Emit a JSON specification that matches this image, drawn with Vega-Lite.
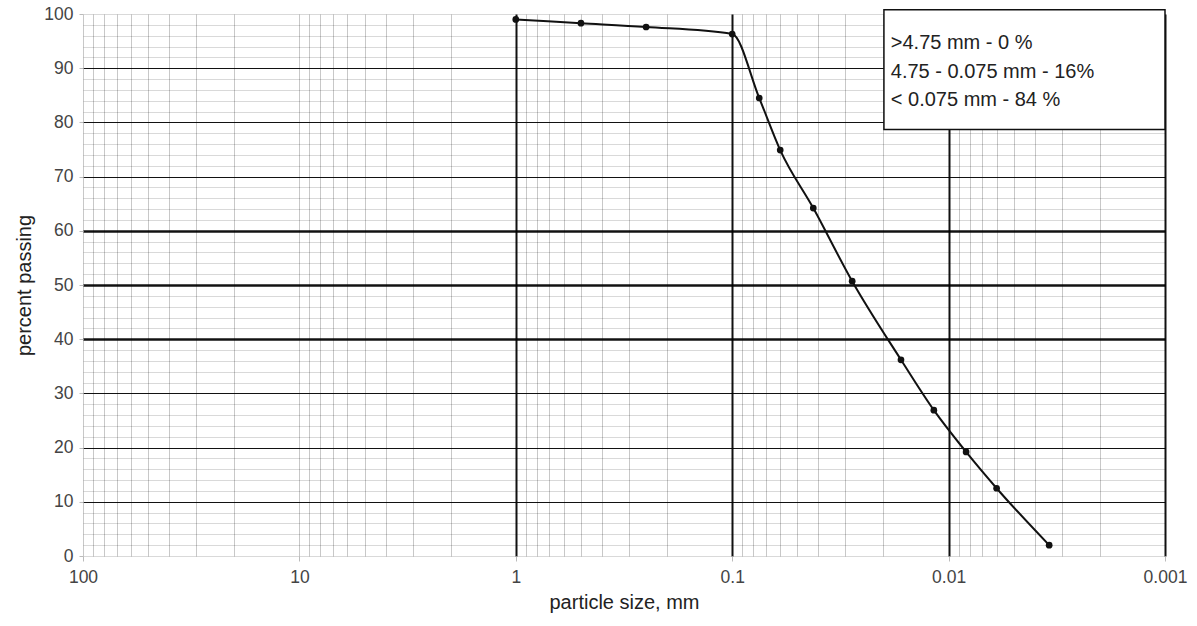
{
  "$schema": "https://vega.github.io/schema/vega-lite/v6.json",
  "width": 1082,
  "height": 542,
  "autosize": {"type": "none"},
  "padding": {"left": 83, "top": 14, "right": 32, "bottom": 70},
  "background": "white",
  "config": {
    "view": {"stroke": null},
    "font": "Liberation Sans",
    "axis": {"labelFont": "Liberation Sans", "titleFont": "Liberation Sans", "domain": false}
  },
  "datasets": {
    "pts": [
      {"size": 1.0, "passing": 99.0},
      {"size": 0.5, "passing": 98.3},
      {"size": 0.25, "passing": 97.6},
      {"size": 0.1, "passing": 96.3},
      {"size": 0.075, "passing": 84.5},
      {"size": 0.06, "passing": 74.9},
      {"size": 0.0422, "passing": 64.2},
      {"size": 0.0279, "passing": 50.7},
      {"size": 0.0166, "passing": 36.2},
      {"size": 0.0117, "passing": 26.9},
      {"size": 0.0083, "passing": 19.2},
      {"size": 0.006, "passing": 12.5},
      {"size": 0.00343, "passing": 2.0}
    ],
    "box": [{"x1": 0.0199, "x2": 0.001, "y1": 78.7, "y2": 100.8}],
    "notes": [
      {"x": 0.0185, "y": 94.6, "t": ">4.75 mm - 0 %"},
      {"x": 0.0185, "y": 89.3, "t": "4.75 - 0.075 mm - 16%"},
      {"x": 0.0185, "y": 84.1, "t": "< 0.075 mm - 84 %"}
    ]
  },
  "layer": [
    {
      "data": {"name": "pts"},
      "mark": {"type": "line", "color": "#111", "strokeWidth": 2, "interpolate": "monotone", "clip": false},
      "encoding": {
        "x": {
          "field": "size", "type": "quantitative",
          "scale": {"type": "log", "domain": [0.001, 100], "reverse": true, "nice": false},
          "axis": {
            "title": "particle size, mm",
            "titleFontSize": 20, "titleFontWeight": "normal", "titleColor": "#222", "titlePadding": 7,
            "tickCount": 500,
            "values": [100,90,80,70,60,50,40,30,20,10,9,8,7,6,5,4,3,2,1,0.9,0.8,0.7,0.6,0.5,0.4,0.3,0.2,0.1,0.09,0.08,0.07,0.06,0.05,0.04,0.03,0.02,0.01,0.009,0.008,0.007,0.006,0.005,0.004,0.003,0.002,0.001],
            "format": "~g",
            "labelExpr": "indexof([100,10,1,0.1,0.01,0.001], datum.value) >= 0 ? datum.label : ''",
            "labelFontSize": 17.5, "labelColor": "#444", "labelPadding": 7, "labelFlush": false, "labelOverlap": false,
            "tickSize": 5,
            "tickColor": {"condition": {"test": "indexof([100,10,1,0.1,0.01,0.001], datum.value) >= 0", "value": "#bbb"}, "value": "transparent"},
            "grid": true,
            "gridColor": {"condition": {"test": "indexof([1,0.1,0.01,0.001], datum.value) >= 0", "value": "#111"}, "value": "#c8c8c8"},
            "gridWidth": {"condition": {"test": "indexof([1,0.1,0.01,0.001], datum.value) >= 0", "value": 2}, "value": 1}
          }
        },
        "y": {
          "field": "passing", "type": "quantitative",
          "scale": {"domain": [0, 100], "nice": false},
          "axis": {
            "title": "percent passing",
            "titleFontSize": 20, "titleFontWeight": "normal", "titleColor": "#222", "titlePadding": 9,
            "tickCount": 500,
            "format": "d",
            "values": [0,2,4,6,8,10,12,14,16,18,20,22,24,26,28,30,32,34,36,38,40,42,44,46,48,50,52,54,56,58,60,62,64,66,68,70,72,74,76,78,80,82,84,86,88,90,92,94,96,98,100],
            "labelExpr": "datum.value % 10 == 0 ? datum.label : ''",
            "labelFontSize": 17.5, "labelColor": "#444", "labelPadding": 6, "labelFlush": false, "labelOverlap": false,
            "tickSize": 4,
            "tickColor": {"condition": {"test": "datum.value % 10 == 0", "value": "#bbb"}, "value": "transparent"},
            "grid": true,
            "gridColor": "#000",
            "gridOpacity": {"condition": {"test": "datum.value % 10 == 0 && datum.value > 0 && datum.value < 100", "value": 0.93}, "value": 0.15},
            "gridWidth": {"condition": {"test": "datum.value >= 40 && datum.value <= 60 && datum.value % 10 == 0", "value": 2.6}, "value": {"expr": "datum.value % 10 == 0 && datum.value > 0 && datum.value < 100 ? 2 : 1"}}
          }
        }
      }
    },
    {
      "data": {"name": "pts"},
      "mark": {"type": "point", "filled": true, "color": "#111", "size": 45, "opacity": 1, "clip": false},
      "encoding": {
        "x": {"field": "size", "type": "quantitative"},
        "y": {"field": "passing", "type": "quantitative"}
      }
    },
    {
      "data": {"name": "box"},
      "mark": {"type": "rect", "fill": "white", "stroke": "#111", "strokeWidth": 1.5, "clip": false},
      "encoding": {
        "x": {"field": "x1", "type": "quantitative"},
        "x2": {"field": "x2"},
        "y": {"field": "y1", "type": "quantitative"},
        "y2": {"field": "y2"}
      }
    },
    {
      "data": {"name": "notes"},
      "mark": {"type": "text", "align": "left", "baseline": "middle", "fontSize": 20, "color": "#222", "font": "Liberation Sans"},
      "encoding": {
        "x": {"field": "x", "type": "quantitative"},
        "y": {"field": "y", "type": "quantitative"},
        "text": {"field": "t"}
      }
    }
  ]
}
